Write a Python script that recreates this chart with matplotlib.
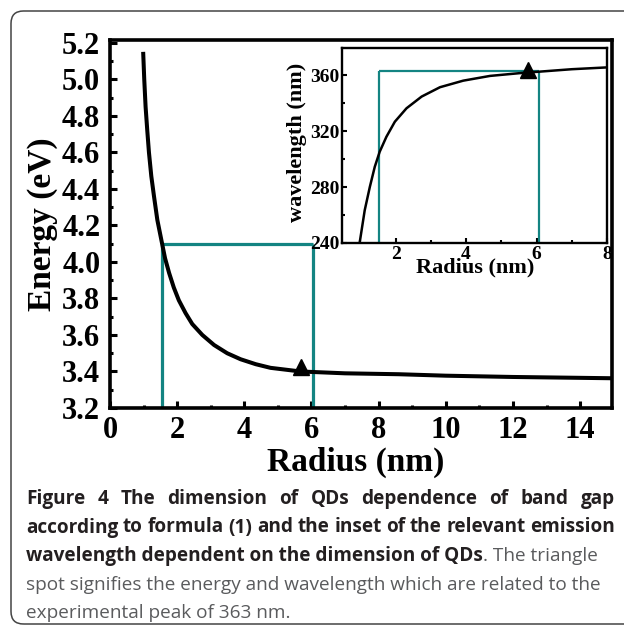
import matplotlib
matplotlib.use('Agg')
import matplotlib.pyplot as plt
from matplotlib.patches import FancyBboxPatch
from matplotlib.ticker import MultipleLocator

# ---------------- data ----------------
radius_main = [0.99, 1.02, 1.06, 1.11, 1.16, 1.23, 1.31, 1.41, 1.53, 1.64, 1.76,
               1.90, 2.05, 2.25, 2.45, 2.75, 3.10, 3.49, 3.89, 4.34, 4.78, 5.68,
               7.0, 8.6, 10.0, 12.0, 14.95]
energy_main = [5.14, 5.00, 4.85, 4.72, 4.60, 4.47, 4.36, 4.23, 4.12, 4.02, 3.94,
               3.86, 3.79, 3.72, 3.66, 3.60, 3.545, 3.50, 3.467, 3.44, 3.42, 3.40,
               3.39, 3.385, 3.377, 3.37, 3.363]
peak_main = (5.7, 3.425)
guide_r_main = [1.54, 6.04]
guide_e_main = 4.10

radius_inset = [0.98, 1.125, 1.27, 1.41, 1.55, 1.74, 1.98, 2.31, 2.74, 3.26,
                3.92, 4.68, 5.53, 7.0, 8.0]
wavelength_inset = [240, 263.5, 280.2, 294.6, 305.4, 316.1, 326.9, 336.5, 344.9,
                    351.6, 356.3, 359.7, 361.7, 364.5, 365.8]
peak_inset = (5.75, 364.0)
guide_r_inset = [1.53, 6.08]
guide_w_inset = 363.5

main_xticks = [0, 2, 4, 6, 8, 10, 12, 14]
main_yticks = [3.2, 3.4, 3.6, 3.8, 4.0, 4.2, 4.4, 4.6, 4.8, 5.0, 5.2]
inset_xticks = [2, 4, 6, 8]
inset_yticks = [240, 280, 320, 360]

caption_lines = [
    [("Figure 4 The dimension of QDs dependence of band gap", 'bold')],
    [("according to formula (1) and the inset of the relevant emission", 'bold')],
    [("wavelength dependent on the dimension of QDs", 'bold'), (". The triangle", 'normal')],
    [("spot signifies the energy and wavelength which are related to the", 'normal')],
    [("experimental peak of 363 nm.", 'normal')],
]
caption_justify = [True, True, False, False, False]

# ---------------- style ----------------
W, H = 624, 626
TEAL = '#138482'
SERIF = 'Liberation Serif'
CAP_FONT = 'Open Sans'


def box(x0, y0, x1, y1):
    return [x0 / W, 1 - y1 / H, (x1 - x0) / W, (y1 - y0) / H]


fig = plt.figure(figsize=(W / 100, H / 100), dpi=100)
fig.patch.set_facecolor('white')

# outer rounded frame
frame = FancyBboxPatch((11 / W, 2 / H), 700 / W, (624 - 11) / H,
                       boxstyle="round,pad=0,rounding_size=0.02",
                       transform=fig.transFigure, fill=False,
                       edgecolor='#444444', linewidth=1.1)
fig.add_artist(frame)

# ---------------- main axes ----------------
ax = fig.add_axes(box(110, 40, 612, 408))
ax.plot(guide_r_main[0:1] * 2, [3.2, guide_e_main], color=TEAL, lw=2.3, zorder=2, solid_capstyle='butt')
ax.plot(guide_r_main, [guide_e_main, guide_e_main], color=TEAL, lw=2.3, zorder=2, solid_capstyle='butt')
ax.plot(guide_r_main[1:2] * 2, [guide_e_main, 3.2], color=TEAL, lw=2.3, zorder=2, solid_capstyle='butt')
ax.plot(radius_main, energy_main, color='black', lw=2.9, zorder=3)
ax.plot([peak_main[0]], [peak_main[1]], marker='^', color='black', ms=12, zorder=4)

ax.set_xlim(0, 14.95)
ax.set_ylim(3.2, 5.216)
ax.set_xticks(main_xticks)
ax.set_xticklabels([str(v) for v in main_xticks])
ax.set_yticks(main_yticks)
ax.set_yticklabels([f"{v:.1f}" for v in main_yticks])
ax.xaxis.set_minor_locator(MultipleLocator(1))
ax.yaxis.set_minor_locator(MultipleLocator(0.1))
ax.tick_params(which='both', direction='in', top=False, right=False, width=2.2)
ax.tick_params(which='major', length=5)
ax.tick_params(which='minor', length=2.5)
ax.tick_params(axis='x', pad=6)
ax.tick_params(axis='y', pad=7)
for lab in ax.get_xticklabels() + ax.get_yticklabels():
    lab.set_fontfamily(SERIF)
    lab.set_fontweight('bold')
    lab.set_fontsize(22)
for s in ax.spines.values():
    s.set_linewidth(2.6)
ax.set_xlabel('Radius (nm)', fontfamily=SERIF, fontweight='bold', fontsize=24)
ax.set_ylabel('Energy (eV)', fontfamily=SERIF, fontweight='bold', fontsize=24)
ax.xaxis.set_label_coords(0.49, -0.147)
ax.xaxis.label.set_va('center')
ax.yaxis.set_label_coords(-0.135, 0.5)
ax.yaxis.label.set_va('center')

# ---------------- inset ----------------
ins = fig.add_axes(box(342, 48, 607, 243))
ins.plot(guide_r_inset[0:1] * 2, [240, guide_w_inset], color=TEAL, lw=1.6, zorder=2, solid_capstyle='butt')
ins.plot(guide_r_inset, [guide_w_inset, guide_w_inset], color=TEAL, lw=1.6, zorder=2, solid_capstyle='butt')
ins.plot(guide_r_inset[1:2] * 2, [guide_w_inset, 240], color=TEAL, lw=1.6, zorder=2, solid_capstyle='butt')
ins.plot(radius_inset, wavelength_inset, color='black', lw=1.8, zorder=3)
ins.plot([peak_inset[0]], [peak_inset[1]], marker='^', color='black', ms=11, zorder=4)
ins.set_xlim(0.48, 8.0)
ins.set_ylim(240, 379.7)
ins.set_xticks(inset_xticks)
ins.set_xticklabels([str(v) for v in inset_xticks])
ins.set_yticks(inset_yticks)
ins.set_yticklabels([str(v) for v in inset_yticks])
ins.xaxis.set_minor_locator(MultipleLocator(1))
ins.yaxis.set_minor_locator(MultipleLocator(20))
ins.tick_params(which='both', direction='in', top=False, right=False, width=1.5)
ins.tick_params(which='major', length=3.5)
ins.tick_params(which='minor', length=2)
ins.tick_params(axis='both', pad=2)
for lab in ins.get_xticklabels() + ins.get_yticklabels():
    lab.set_fontfamily(SERIF)
    lab.set_fontweight('bold')
    lab.set_fontsize(14)
for s in ins.spines.values():
    s.set_linewidth(1.7)
ins.set_xlabel('Radius (nm)', fontfamily=SERIF, fontweight='bold', fontsize=16)
ins.set_ylabel('wavelength (nm)', fontfamily=SERIF, fontweight='bold', fontsize=16)
ins.xaxis.set_label_coords(0.502, -0.128)
ins.xaxis.label.set_va('center')
ins.yaxis.set_label_coords(-0.17, 0.515)
ins.yaxis.label.set_va('center')

# ---------------- caption ----------------
fig.canvas.draw()
renderer = fig.canvas.get_renderer()
colors = {'bold': '#231f20', 'normal': '#5a5b5d'}


def text_width(s, wt, size):
    t = fig.text(0, 0, s, fontfamily=CAP_FONT, fontweight=wt, fontsize=size)
    w = t.get_window_extent(renderer).width
    t.remove()
    return w


# bold size so that the (naturally full) line 2 spans 26..615;
# regular size so that line 4 spans 26..600
size_bold = 12 * 589.0 / text_width(caption_lines[1][0][0], 'bold', 12)
size_norm = 12 * 574.0 / text_width(caption_lines[3][0][0], 'normal', 12)
sizes = {'bold': size_bold, 'normal': size_norm}

x_start, x_end = 26, 615
baselines = [504, 532.5, 561, 589.5, 618]
for segs, yb, just in zip(caption_lines, baselines, caption_justify):
    y = 1 - yb / H
    if just:
        txt, wt = segs[0]
        words = txt.split(' ')
        widths = [text_width(w_, wt, sizes[wt]) for w_ in words]
        gap = (x_end - x_start - sum(widths)) / (len(words) - 1)
        x = x_start
        for w_, wd in zip(words, widths):
            fig.text(x / W, y, w_, fontfamily=CAP_FONT, fontweight=wt,
                     fontsize=sizes[wt], color=colors[wt], va='baseline', ha='left')
            x += wd + gap
    else:
        x = x_start
        for txt, wt in segs:
            t = fig.text(x / W, y, txt, fontfamily=CAP_FONT, fontweight=wt,
                         fontsize=sizes[wt], color=colors[wt], va='baseline', ha='left')
            x += t.get_window_extent(renderer).width

fig.savefig('out.png', dpi=100, facecolor='white')
